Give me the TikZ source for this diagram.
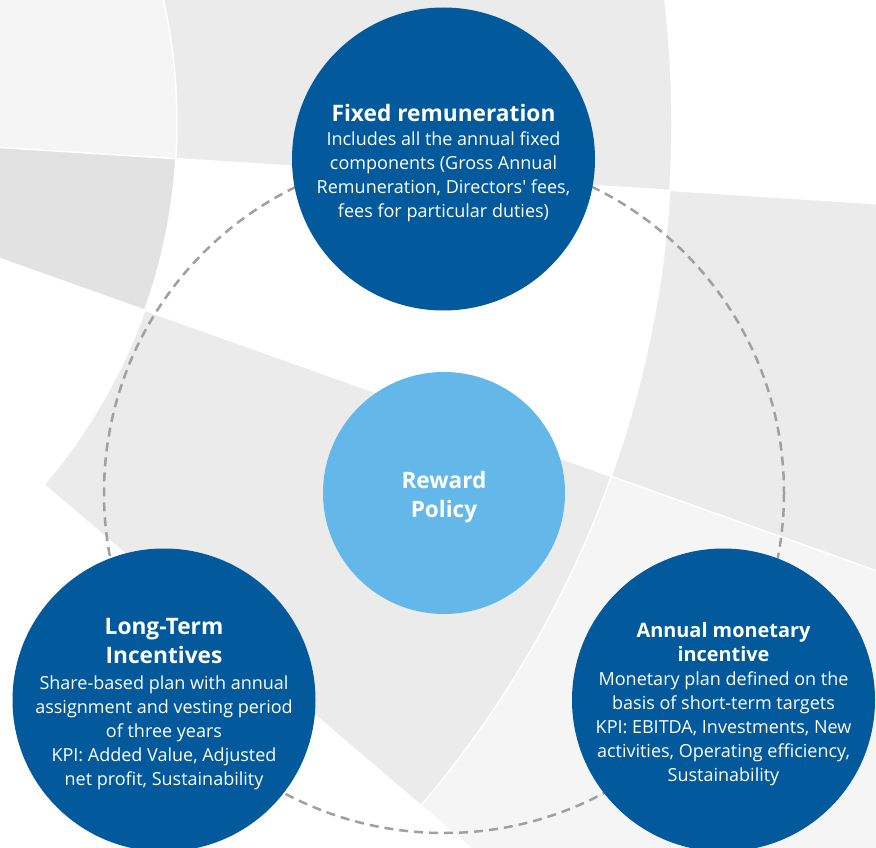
\documentclass[tikz,border=0pt]{standalone}
\usepackage{fontspec}
\setmainfont{Open Sans}

\definecolor{policyblue}{RGB}{2,89,155}
\definecolor{policysky}{RGB}{99,184,233}
\definecolor{tilelight}{RGB}{245,245,245}
\definecolor{tilemid}{RGB}{235,235,235}
\definecolor{tiledark}{RGB}{226,226,226}
\definecolor{ringgrey}{RGB}{160,160,160}

% bold heading line inside a disc
\newcommand{\disctitle}[2][22.7]{{\bfseries\fontsize{#1}{24}\selectfont #2}}

\begin{document}
\begin{tikzpicture}[x=1pt, y=-1pt,
    disc/.style={circle, fill=policyblue, minimum size=303pt, inner sep=0pt},
    hub/.style={circle, fill=policysky, minimum size=242pt, inner sep=0pt},
    caption/.style={align=center, text=white, yshift=-4.5pt, font=\fontsize{18}{24}\selectfont},
    seam/.style={white, line width=1.5pt},
    ring/.style={draw=ringgrey, line width=2.5pt, dash pattern=on 9pt off 6pt}
]
    \useasboundingbox (0,0) rectangle (876,848);
    \fill[white] (0,0) rectangle (876,848);

    % Background: polar grid of grey tiles
    \begin{scope}
        \clip (0,0) rectangle (876,848);
        \begin{scope}[shift={(-381,123)}]
            \fill[tilelight] (0,0) -- (-40:558) arc[start angle=-40, end angle=3.67, radius=558] -- cycle;
            \fill[tiledark] (0,0) -- (3.67:558) arc[start angle=3.67, end angle=19.6, radius=558] -- cycle;
            \fill[tilemid] (-40:558) arc[start angle=-40, end angle=3.67, radius=558]
                -- (3.67:1053) arc[start angle=3.67, end angle=-40, radius=1053] -- cycle;
            \fill[tilemid] (19.6:558) arc[start angle=19.6, end angle=40.4, radius=558]
                -- (40.4:1053) arc[start angle=40.4, end angle=19.6, radius=1053] -- cycle;
            \fill[tilemid] (3.67:1053) arc[start angle=3.67, end angle=19.6, radius=1053]
                -- (19.6:1800) arc[start angle=19.6, end angle=3.67, radius=1800] -- cycle;
            \fill[tilelight] (19.6:1053) arc[start angle=19.6, end angle=40.4, radius=1053]
                -- (40.4:1800) arc[start angle=40.4, end angle=19.6, radius=1800] -- cycle;
            % thin gaps between the tiles
            \draw[seam] (0,0) -- (3.67:1800) (0,0) -- (19.6:1800) (0,0) -- (40.4:1800);
            \draw[seam] (0,0) circle[radius=558] (0,0) circle[radius=1053];
        \end{scope}
    \end{scope}

    % Discs
    \node[hub] (hub) at (444,493) {};
    \draw[ring] (hub.center) circle[radius=340];
    \node[disc] (fixed) at (443.5,159) {};
    \node[disc] (lti) at (164,700) {};
    \node[disc] (ami) at (723.5,700) {};

    % Texts
    \node[caption, font=\bfseries\fontsize{22.6}{29}\selectfont] (hubtxt) at (hub) {Reward\\ Policy};
    \node[caption] (fixedtxt) at (fixed) {\disctitle{Fixed remuneration}\\
        Includes all the annual fixed\\ components (Gross Annual\\
        Remuneration, Directors\textquotesingle{} fees,\\ fees for particular duties)};
    \node[caption] (ltitxt) at (lti) {\disctitle{Long-Term}\\[5pt] \disctitle{Incentives}\\[2pt]
        Share-based plan with annual\\ assignment and vesting period\\ of three years\\
        KPI: Added Value, Adjusted\\ net profit, Sustainability};
    \node[caption] (amitxt) at (ami) {\disctitle[19.9]{Annual monetary}\\ \disctitle[19.9]{incentive}\\
        Monetary plan defined on the\\ basis of short-term targets\\
        KPI: EBITDA, Investments, New\\ activities, Operating efficiency,\\ Sustainability};
\end{tikzpicture}
\end{document}
